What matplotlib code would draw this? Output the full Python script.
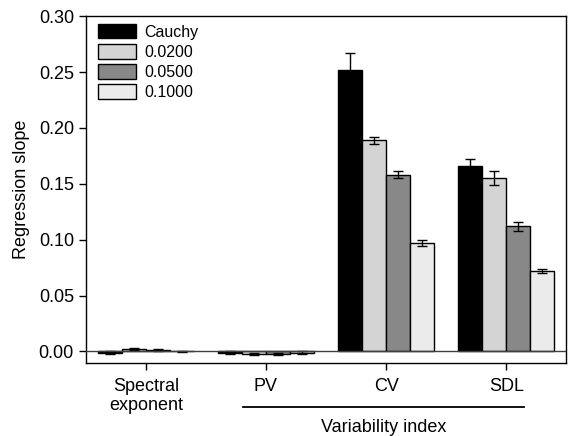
import numpy as np
import matplotlib
matplotlib.use("Agg")
import matplotlib.pyplot as plt

plt.rcParams['font.family'] = ['Liberation Sans', 'DejaVu Sans']

groups = ["Spectral\nexponent", "PV", "CV", "SDL"]
series = ["Cauchy", "0.0200", "0.0500", "0.1000"]
colors = ["#000000", "#d4d4d4", "#888888", "#ebebeb"]

# slope per series, one value per group
values = [
    [-0.001, -0.001, 0.252, 0.166],
    [0.002, -0.002, 0.189, 0.155],
    [0.001, -0.002, 0.158, 0.112],
    [0.000, -0.001, 0.097, 0.072],
]
errors = [
    [0.001, 0.001, 0.015, 0.006],
    [0.001, 0.001, 0.003, 0.006],
    [0.001, 0.001, 0.003, 0.004],
    [0.0005, 0.001, 0.0025, 0.002],
]

fig = plt.figure(figsize=(5.68, 4.36), dpi=100)
ax = fig.add_axes([0.151, 0.167, 0.846, 0.796])

x = np.arange(len(groups))
w = 0.2
for i, name in enumerate(series):
    xs = x + (i - 1.5) * w
    ax.bar(xs, values[i], w, color=colors[i], edgecolor="black", linewidth=1,
           label=name, zorder=2)
    ax.errorbar(xs, values[i], yerr=errors[i], fmt="none", ecolor="black",
                elinewidth=1, capsize=3.5, capthick=1, zorder=3)

ax.axhline(0, color="#404040", linewidth=1, zorder=4)

ax.set_xlim(-0.5, 3.5)
ax.set_ylim(-0.0105, 0.30)
ax.set_yticks(np.arange(0, 0.301, 0.05))
ax.set_yticklabels([f"{v:.2f}" for v in np.arange(0, 0.301, 0.05)], fontsize=13)
ax.set_xticks(x)
ax.set_xticklabels(groups, fontsize=13)
ax.tick_params(direction="out", length=5, width=1)
ax.tick_params(axis="x", pad=5.5)
ax.set_ylabel("Regression slope", fontsize=13, labelpad=6)
for s in ax.spines.values():
    s.set_linewidth(1)

ax.legend(loc="upper left", frameon=False, fontsize=11.5, handlelength=2.4,
          handleheight=1.0, labelspacing=0.28, handletextpad=0.5,
          borderaxespad=0.35, bbox_to_anchor=(0.0, 1.0115))

# bracket under the variability indices
ax.plot([0.81, 3.15], [-0.127, -0.127], color="black", linewidth=1.3,
        transform=ax.get_xaxis_transform(), clip_on=False)
ax.text(1.98, -0.186, "Variability index", fontsize=13, ha="center", va="center",
        transform=ax.get_xaxis_transform())

fig.savefig("out.png", dpi=100)
